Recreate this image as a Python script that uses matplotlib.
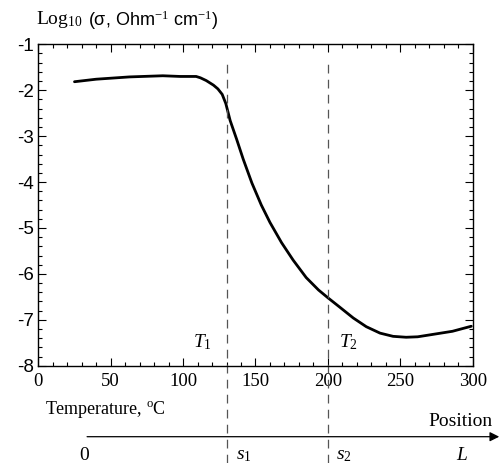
import matplotlib
matplotlib.use('Agg')
import matplotlib.pyplot as plt
from matplotlib.ticker import MultipleLocator

plt.rcParams['font.family'] = 'Liberation Serif'
plt.rcParams['axes.unicode_minus'] = False
plt.rcParams['mathtext.fontset'] = 'custom'
plt.rcParams['mathtext.rm'] = 'Liberation Serif'
plt.rcParams['mathtext.it'] = 'Liberation Serif:italic'

# conductivity curve
temperature = [25, 40, 63, 86, 98, 109, 112, 116, 121, 124, 127, 129.5, 132.5,
               137, 141.5, 147.5, 154, 160, 168, 176, 185, 193.5, 200, 208,
               217.5, 226.5, 236, 245, 254, 262, 270, 286, 299]
log_sigma = [-1.815, -1.76, -1.71, -1.685, -1.70, -1.70, -1.73, -1.79, -1.89,
             -1.97, -2.09, -2.29, -2.66, -3.07, -3.50, -4.02, -4.50, -4.88,
             -5.32, -5.70, -6.08, -6.35, -6.52, -6.72, -6.96, -7.15, -7.29,
             -7.36, -7.38, -7.37, -7.33, -7.25, -7.14]

# transition temperatures
t_marks = [130, 200]
t_labels = ['$T_1$', '$T_2$']
x_ticks = [0, 50, 100, 150, 200, 250, 300]
y_ticks = [-1, -2, -3, -4, -5, -6, -7, -8]

fig = plt.figure(figsize=(5.03, 4.63), dpi=100)
ax = fig.add_axes([0.0761, 0.2101, 0.8637, 0.6942])

ax.plot(temperature, log_sigma, color='black', lw=2.0,
        solid_joinstyle='round', solid_capstyle='round')

for tm in t_marks:
    ax.axvline(tm, ymin=-0.303, ymax=0.948, color='#555555', lw=0.9,
               dashes=(7, 5), clip_on=False)

ax.text(106.5, -7.49, t_labels[0], fontsize=14, va='center', ha='left')
ax.text(207.5, -7.49, t_labels[1], fontsize=14, va='center', ha='left')

ax.set_xlim(0, 300)
ax.set_ylim(-8, -1)
ax.set_xticks(x_ticks)
ax.set_yticks(y_ticks)
ax.set_yticklabels([str(v) for v in y_ticks], family='Liberation Sans')
ax.xaxis.set_minor_locator(MultipleLocator(10))
ax.yaxis.set_minor_locator(MultipleLocator(0.2))
ax.tick_params(which='both', direction='in', top=True, right=True, width=0.8)
ax.tick_params(which='major', length=6, labelsize=13.5)
ax.tick_params(which='minor', length=3)
ax.tick_params(axis='x', pad=5)
ax.tick_params(axis='y', pad=3)
for sp in ax.spines.values():
    sp.set_linewidth(1.0)

# y label as header above the axes
fig.text(36 / 503, 1 - 20 / 463, 'Log$_{10}$', fontsize=14, va='center')
fig.text(88 / 503, 1 - 20 / 463, '(σ, Ohm$^{-1}$ cm$^{-1}$)', fontsize=13,
         va='center', family='Liberation Sans')

fig.text(45 / 503, 1 - 410 / 463, 'Temperature, $^{\\rm o}$C', fontsize=13,
         va='center')

# position axis below
arrow_y = 1 - 436.7 / 463
fig.add_artist(matplotlib.patches.FancyArrowPatch(
    (84.3 / 503, arrow_y), (502 / 503, arrow_y), transform=fig.transFigure,
    arrowstyle='-|>', mutation_scale=14, color='black', lw=0.9))
fig.text(493 / 503, 1 - 421 / 463, 'Position', fontsize=14, va='center', ha='right')
fig.text(84 / 503, 1 - 455 / 463, '0', fontsize=14, va='center', ha='center')
fig.text(236 / 503, 1 - 455 / 463, '$s_1$', fontsize=14, va='center')
fig.text(336 / 503, 1 - 455 / 463, '$s_2$', fontsize=14, va='center')
fig.text(462 / 503, 1 - 455 / 463, '$L$', fontsize=14, va='center', ha='center')

fig.savefig('out.png', dpi=100)
